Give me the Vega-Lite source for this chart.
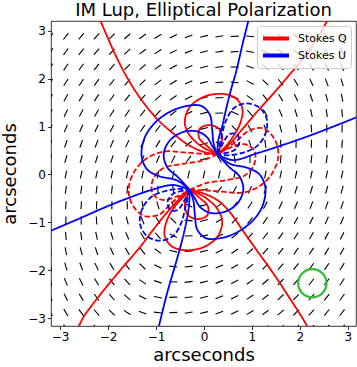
{
"$schema":"https://vega.github.io/schema/vega-lite/v6.json",
"width":305,"height":305,"autosize":"none",
"padding":{"left":51,"top":21,"right":1,"bottom":41},
"background":"white",
"title":{"text":"IM Lup, Elliptical Polarization","fontSize":18,"fontWeight":"normal","font":"DejaVu Sans","color":"black","offset":1,"anchor":"middle"},
"config":{"font":"DejaVu Sans","view":{"stroke":"black","strokeWidth":0.8},
 "axis":{"grid":false,"domain":false,"tickColor":"black","tickSize":3.5,"tickWidth":0.8,"labelFontSize":12,"labelColor":"black","titleFontSize":18,"titleFontWeight":"normal","titleColor":"black","labelFont":"DejaVu Sans","titleFont":"DejaVu Sans"},
 "legend":{"orient":"top-right","offset":5,"padding":4,"fillColor":"rgba(255,255,255,0.8)","strokeColor":"#cccccc","cornerRadius":3,"labelFontSize":11,"labelFont":"DejaVu Sans","labelColor":"black","symbolType":"M-1,0L3,0","symbolStrokeWidth":4,"symbolSize":169,"rowPadding":0,"labelOffset":20}},
"datasets":{
"paths":[{"p":1,"s":"Stokes Q","d":"solid"},{"p":2,"s":"Stokes Q","d":"solid"},{"p":3,"s":"Stokes Q","d":"solid"},{"p":4,"s":"Stokes Q","d":"solid"},{"p":5,"s":"Stokes Q","d":"dashed"},{"p":6,"s":"Stokes Q","d":"dashed"},{"p":7,"s":"Stokes Q","d":"dashed"},{"p":8,"s":"Stokes Q","d":"dashed"},{"p":9,"s":"Stokes Q","d":"solid"},{"p":10,"s":"Stokes Q","d":"solid"},{"p":11,"s":"Stokes Q","d":"solid"},{"p":12,"s":"Stokes Q","d":"solid"},{"p":13,"s":"Stokes U","d":"solid"},{"p":14,"s":"Stokes U","d":"solid"},{"p":15,"s":"Stokes U","d":"solid"},{"p":16,"s":"Stokes U","d":"solid"},{"p":17,"s":"Stokes U","d":"dashed"},{"p":18,"s":"Stokes U","d":"dashed"},{"p":19,"s":"Stokes U","d":"dashed"},{"p":20,"s":"Stokes U","d":"dashed"},{"p":21,"s":"Stokes U","d":"solid"},{"p":22,"s":"Stokes U","d":"solid"},{"p":23,"s":"Stokes U","d":"solid"},{"p":24,"s":"Stokes U","d":"solid"}],
"cont":[
{"p":1,"x":0.28,"y":0.42},{"p":1,"x":0.10,"y":0.50},{"p":1,"x":-0.10,"y":0.62},{"p":1,"x":-0.30,"y":0.82},{"p":1,"x":-0.40,"y":1.08},{"p":1,"x":-0.30,"y":1.40},{"p":1,"x":0.00,"y":1.62},{"p":1,"x":0.37,"y":1.68},{"p":1,"x":0.65,"y":1.60},{"p":1,"x":0.80,"y":1.38},{"p":1,"x":0.76,"y":1.08},{"p":1,"x":0.60,"y":0.78},{"p":1,"x":0.42,"y":0.55},{"p":1,"x":0.28,"y":0.42},
{"p":2,"x":-0.30,"y":-0.32},{"p":2,"x":-0.12,"y":-0.40},{"p":2,"x":0.08,"y":-0.52},{"p":2,"x":0.28,"y":-0.72},{"p":2,"x":0.38,"y":-0.98},{"p":2,"x":0.28,"y":-1.30},{"p":2,"x":-0.02,"y":-1.52},{"p":2,"x":-0.39,"y":-1.58},{"p":2,"x":-0.67,"y":-1.50},{"p":2,"x":-0.82,"y":-1.28},{"p":2,"x":-0.78,"y":-0.98},{"p":2,"x":-0.62,"y":-0.68},{"p":2,"x":-0.40,"y":-0.44},{"p":2,"x":-0.30,"y":-0.32},
{"p":3,"x":0.28,"y":0.42},{"p":3,"x":0.08,"y":0.58},{"p":3,"x":-0.10,"y":0.76},{"p":3,"x":-0.09,"y":0.95},{"p":3,"x":0.10,"y":1.03},{"p":3,"x":0.30,"y":0.96},{"p":3,"x":0.38,"y":0.76},{"p":3,"x":0.33,"y":0.55},{"p":3,"x":0.28,"y":0.42},
{"p":4,"x":-0.30,"y":-0.32},{"p":4,"x":-0.10,"y":-0.48},{"p":4,"x":0.08,"y":-0.66},{"p":4,"x":0.07,"y":-0.85},{"p":4,"x":-0.12,"y":-0.93},{"p":4,"x":-0.32,"y":-0.86},{"p":4,"x":-0.40,"y":-0.66},{"p":4,"x":-0.35,"y":-0.45},{"p":4,"x":-0.30,"y":-0.32},
{"p":5,"x":-0.30,"y":-0.32},{"p":5,"x":0.00,"y":-0.33},{"p":5,"x":0.40,"y":-0.36},{"p":5,"x":0.80,"y":-0.38},{"p":5,"x":1.15,"y":-0.25},{"p":5,"x":1.42,"y":0.02},{"p":5,"x":1.55,"y":0.38},{"p":5,"x":1.48,"y":0.72},{"p":5,"x":1.24,"y":0.96},{"p":5,"x":0.95,"y":0.92},{"p":5,"x":0.68,"y":0.70},{"p":5,"x":0.45,"y":0.52},{"p":5,"x":0.28,"y":0.42},
{"p":6,"x":0.28,"y":0.42},{"p":6,"x":-0.02,"y":0.43},{"p":6,"x":-0.42,"y":0.46},{"p":6,"x":-0.82,"y":0.48},{"p":6,"x":-1.17,"y":0.35},{"p":6,"x":-1.44,"y":0.08},{"p":6,"x":-1.57,"y":-0.28},{"p":6,"x":-1.50,"y":-0.62},{"p":6,"x":-1.26,"y":-0.86},{"p":6,"x":-0.94,"y":-0.84},{"p":6,"x":-0.66,"y":-0.58},{"p":6,"x":-0.45,"y":-0.42},{"p":6,"x":-0.30,"y":-0.32},
{"p":7,"x":-0.30,"y":-0.32},{"p":7,"x":0.05,"y":-0.18},{"p":7,"x":0.45,"y":-0.12},{"p":7,"x":0.85,"y":-0.02},{"p":7,"x":1.05,"y":0.22},{"p":7,"x":1.05,"y":0.50},{"p":7,"x":0.85,"y":0.63},{"p":7,"x":0.55,"y":0.56},{"p":7,"x":0.28,"y":0.42},
{"p":8,"x":0.28,"y":0.42},{"p":8,"x":-0.07,"y":0.28},{"p":8,"x":-0.47,"y":0.22},{"p":8,"x":-0.87,"y":0.12},{"p":8,"x":-1.07,"y":-0.12},{"p":8,"x":-1.07,"y":-0.40},{"p":8,"x":-0.87,"y":-0.53},{"p":8,"x":-0.57,"y":-0.46},{"p":8,"x":-0.30,"y":-0.32},
{"p":9,"x":0.28,"y":0.42},{"p":9,"x":0.00,"y":0.47},{"p":9,"x":-0.30,"y":0.60},{"p":9,"x":-0.60,"y":0.82},{"p":9,"x":-1.00,"y":1.18},{"p":9,"x":-1.35,"y":1.62},{"p":9,"x":-1.62,"y":2.05},{"p":9,"x":-1.85,"y":2.50},{"p":9,"x":-2.05,"y":2.95},{"p":9,"x":-2.20,"y":3.30},
{"p":10,"x":-0.30,"y":-0.32},{"p":10,"x":0.00,"y":-0.40},{"p":10,"x":0.30,"y":-0.55},{"p":10,"x":0.55,"y":-0.80},{"p":10,"x":0.83,"y":-1.20},{"p":10,"x":1.10,"y":-1.58},{"p":10,"x":1.45,"y":-2.07},{"p":10,"x":1.78,"y":-2.57},{"p":10,"x":2.08,"y":-3.04},{"p":10,"x":2.20,"y":-3.25},
{"p":11,"x":0.28,"y":0.42},{"p":11,"x":0.55,"y":0.65},{"p":11,"x":0.78,"y":0.92},{"p":11,"x":1.10,"y":1.30},{"p":11,"x":1.45,"y":1.69},{"p":11,"x":1.80,"y":2.10},{"p":11,"x":2.15,"y":2.52},{"p":11,"x":2.40,"y":2.90},{"p":11,"x":2.62,"y":3.30},
{"p":12,"x":-0.30,"y":-0.32},{"p":12,"x":-0.55,"y":-0.55},{"p":12,"x":-0.82,"y":-0.85},{"p":12,"x":-1.08,"y":-1.18},{"p":12,"x":-1.33,"y":-1.51},{"p":12,"x":-1.68,"y":-1.92},{"p":12,"x":-2.03,"y":-2.34},{"p":12,"x":-2.30,"y":-2.68},{"p":12,"x":-2.51,"y":-2.97},{"p":12,"x":-2.65,"y":-3.25},
{"p":13,"x":-0.30,"y":-0.32},{"p":13,"x":-0.57,"y":-0.12},{"p":13,"x":-0.92,"y":-0.04},{"p":13,"x":-1.18,"y":0.10},{"p":13,"x":-1.30,"y":0.38},{"p":13,"x":-1.24,"y":0.76},{"p":13,"x":-1.04,"y":1.06},{"p":13,"x":-0.74,"y":1.29},{"p":13,"x":-0.40,"y":1.42},{"p":13,"x":-0.06,"y":1.43},{"p":13,"x":0.12,"y":1.25},{"p":13,"x":0.17,"y":0.95},{"p":13,"x":0.20,"y":0.65},{"p":13,"x":0.28,"y":0.42},
{"p":14,"x":0.28,"y":0.42},{"p":14,"x":0.55,"y":0.22},{"p":14,"x":0.90,"y":0.14},{"p":14,"x":1.16,"y":0.00},{"p":14,"x":1.28,"y":-0.28},{"p":14,"x":1.22,"y":-0.66},{"p":14,"x":1.02,"y":-0.96},{"p":14,"x":0.72,"y":-1.19},{"p":14,"x":0.38,"y":-1.32},{"p":14,"x":0.04,"y":-1.33},{"p":14,"x":-0.14,"y":-1.15},{"p":14,"x":-0.19,"y":-0.85},{"p":14,"x":-0.22,"y":-0.55},{"p":14,"x":-0.30,"y":-0.32},
{"p":15,"x":-0.30,"y":-0.32},{"p":15,"x":-0.55,"y":-0.05},{"p":15,"x":-0.76,"y":0.14},{"p":15,"x":-0.84,"y":0.42},{"p":15,"x":-0.72,"y":0.70},{"p":15,"x":-0.45,"y":0.88},{"p":15,"x":-0.15,"y":0.90},{"p":15,"x":0.06,"y":0.78},{"p":15,"x":0.18,"y":0.58},{"p":15,"x":0.28,"y":0.42},
{"p":16,"x":0.28,"y":0.42},{"p":16,"x":0.53,"y":0.15},{"p":16,"x":0.74,"y":-0.04},{"p":16,"x":0.82,"y":-0.32},{"p":16,"x":0.70,"y":-0.60},{"p":16,"x":0.43,"y":-0.78},{"p":16,"x":0.13,"y":-0.80},{"p":16,"x":-0.08,"y":-0.68},{"p":16,"x":-0.20,"y":-0.48},{"p":16,"x":-0.30,"y":-0.32},
{"p":17,"x":0.28,"y":0.42},{"p":17,"x":0.36,"y":0.75},{"p":17,"x":0.45,"y":1.10},{"p":17,"x":0.62,"y":1.38},{"p":17,"x":0.88,"y":1.48},{"p":17,"x":1.15,"y":1.40},{"p":17,"x":1.31,"y":1.15},{"p":17,"x":1.27,"y":0.82},{"p":17,"x":1.08,"y":0.57},{"p":17,"x":0.80,"y":0.45},{"p":17,"x":0.50,"y":0.40},{"p":17,"x":0.28,"y":0.42},
{"p":18,"x":-0.30,"y":-0.32},{"p":18,"x":-0.38,"y":-0.65},{"p":18,"x":-0.47,"y":-1.00},{"p":18,"x":-0.64,"y":-1.28},{"p":18,"x":-0.90,"y":-1.38},{"p":18,"x":-1.17,"y":-1.30},{"p":18,"x":-1.33,"y":-1.05},{"p":18,"x":-1.29,"y":-0.72},{"p":18,"x":-1.10,"y":-0.47},{"p":18,"x":-0.82,"y":-0.35},{"p":18,"x":-0.52,"y":-0.30},{"p":18,"x":-0.30,"y":-0.32},
{"p":19,"x":0.28,"y":0.42},{"p":19,"x":0.40,"y":0.66},{"p":19,"x":0.53,"y":0.84},{"p":19,"x":0.68,"y":0.84},{"p":19,"x":0.74,"y":0.67},{"p":19,"x":0.62,"y":0.50},{"p":19,"x":0.28,"y":0.42},
{"p":20,"x":-0.30,"y":-0.32},{"p":20,"x":-0.42,"y":-0.56},{"p":20,"x":-0.55,"y":-0.74},{"p":20,"x":-0.70,"y":-0.74},{"p":20,"x":-0.76,"y":-0.57},{"p":20,"x":-0.64,"y":-0.40},{"p":20,"x":-0.30,"y":-0.32},
{"p":21,"x":0.28,"y":0.42},{"p":21,"x":0.30,"y":0.72},{"p":21,"x":0.38,"y":1.00},{"p":21,"x":0.44,"y":1.27},{"p":21,"x":0.55,"y":1.72},{"p":21,"x":0.68,"y":2.18},{"p":21,"x":0.80,"y":2.70},{"p":21,"x":0.95,"y":3.30},
{"p":22,"x":-0.30,"y":-0.32},{"p":22,"x":-0.31,"y":-0.62},{"p":22,"x":-0.36,"y":-0.95},{"p":22,"x":-0.45,"y":-1.35},{"p":22,"x":-0.57,"y":-1.79},{"p":22,"x":-0.77,"y":-2.48},{"p":22,"x":-0.91,"y":-3.04},{"p":22,"x":-0.96,"y":-3.25},
{"p":23,"x":0.28,"y":0.42},{"p":23,"x":0.60,"y":0.30},{"p":23,"x":1.10,"y":0.44},{"p":23,"x":1.60,"y":0.60},{"p":23,"x":2.15,"y":0.79},{"p":23,"x":2.70,"y":1.00},{"p":23,"x":3.25,"y":1.22},
{"p":24,"x":-0.30,"y":-0.32},{"p":24,"x":-0.64,"y":-0.22},{"p":24,"x":-1.12,"y":-0.33},{"p":24,"x":-1.60,"y":-0.50},{"p":24,"x":-2.03,"y":-0.67},{"p":24,"x":-2.60,"y":-0.92},{"p":24,"x":-3.30,"y":-1.22}
],
"vec":[
{"x":-3.2,"y":2.88,"a":53},{"x":-2.88,"y":2.88,"a":52},{"x":-2.56,"y":2.88,"a":50},{"x":-2.24,"y":2.88,"a":47},{"x":-1.92,"y":2.88,"a":45},{"x":-1.6,"y":2.88,"a":41},{"x":-1.28,"y":2.88,"a":36},{"x":-0.96,"y":2.88,"a":31},{"x":-0.64,"y":2.88,"a":26},{"x":-0.32,"y":2.88,"a":20},{"x":0,"y":2.88,"a":14},{"x":0.32,"y":2.88,"a":9},{"x":0.64,"y":2.88,"a":3},{"x":0.96,"y":2.88,"a":174},{"x":1.28,"y":2.88,"a":160},{"x":1.6,"y":2.88,"a":147},{"x":1.92,"y":2.88,"a":136},{"x":2.24,"y":2.88,"a":130},{"x":2.56,"y":2.88,"a":126},{"x":2.88,"y":2.88,"a":121},
{"x":-3.2,"y":2.56,"a":55},{"x":-2.88,"y":2.56,"a":54},{"x":-2.56,"y":2.56,"a":52},{"x":-2.24,"y":2.56,"a":49},{"x":-1.92,"y":2.56,"a":47},{"x":-1.6,"y":2.56,"a":43},{"x":-1.28,"y":2.56,"a":38},{"x":-0.96,"y":2.56,"a":33},{"x":-0.64,"y":2.56,"a":27},{"x":-0.32,"y":2.56,"a":21},{"x":0,"y":2.56,"a":14},{"x":0.32,"y":2.56,"a":8},{"x":0.64,"y":2.56,"a":2},{"x":0.96,"y":2.56,"a":169},{"x":1.28,"y":2.56,"a":154},{"x":1.6,"y":2.56,"a":140},{"x":1.92,"y":2.56,"a":131},{"x":2.24,"y":2.56,"a":126},{"x":2.56,"y":2.56,"a":121},{"x":2.88,"y":2.56,"a":117},
{"x":-3.2,"y":2.24,"a":57},{"x":-2.88,"y":2.24,"a":56},{"x":-2.56,"y":2.24,"a":54},{"x":-2.24,"y":2.24,"a":52},{"x":-1.92,"y":2.24,"a":49},{"x":-1.6,"y":2.24,"a":46},{"x":-1.28,"y":2.24,"a":41},{"x":-0.96,"y":2.24,"a":35},{"x":-0.64,"y":2.24,"a":29},{"x":-0.32,"y":2.24,"a":22},{"x":0,"y":2.24,"a":14},{"x":0.32,"y":2.24,"a":7},{"x":0.64,"y":2.24,"a":0},{"x":0.96,"y":2.24,"a":162},{"x":1.28,"y":2.24,"a":146},{"x":1.6,"y":2.24,"a":133},{"x":1.92,"y":2.24,"a":127},{"x":2.24,"y":2.24,"a":121},{"x":2.56,"y":2.24,"a":117},{"x":2.88,"y":2.24,"a":112},
{"x":-3.2,"y":1.92,"a":60},{"x":-2.88,"y":1.92,"a":58},{"x":-2.56,"y":1.92,"a":56},{"x":-2.24,"y":1.92,"a":54},{"x":-1.92,"y":1.92,"a":52},{"x":-1.6,"y":1.92,"a":48},{"x":-1.28,"y":1.92,"a":45},{"x":-0.96,"y":1.92,"a":38},{"x":-0.64,"y":1.92,"a":31},{"x":-0.32,"y":1.92,"a":23},{"x":0,"y":1.92,"a":14},{"x":0.32,"y":1.92,"a":6},{"x":0.64,"y":1.92,"a":174},{"x":0.96,"y":1.92,"a":154},{"x":1.28,"y":1.92,"a":136},{"x":1.6,"y":1.92,"a":128},{"x":1.92,"y":1.92,"a":121},{"x":2.24,"y":1.92,"a":116},{"x":2.56,"y":1.92,"a":111},{"x":2.88,"y":1.92,"a":107},
{"x":-3.2,"y":1.6,"a":62},{"x":-2.88,"y":1.6,"a":61},{"x":-2.56,"y":1.6,"a":59},{"x":-2.24,"y":1.6,"a":57},{"x":-1.92,"y":1.6,"a":55},{"x":-1.6,"y":1.6,"a":52},{"x":-1.28,"y":1.6,"a":48},{"x":-0.96,"y":1.6,"a":42},{"x":-0.64,"y":1.6,"a":34},{"x":-0.32,"y":1.6,"a":25},{"x":0,"y":1.6,"a":14},{"x":0.32,"y":1.6,"a":4},{"x":0.64,"y":1.6,"a":166},{"x":0.96,"y":1.6,"a":143},{"x":1.28,"y":1.6,"a":129},{"x":1.6,"y":1.6,"a":121},{"x":1.92,"y":1.6,"a":115},{"x":2.24,"y":1.6,"a":109},{"x":2.56,"y":1.6,"a":105},{"x":2.88,"y":1.6,"a":101},
{"x":-3.2,"y":1.28,"a":65},{"x":-2.88,"y":1.28,"a":64},{"x":-2.56,"y":1.28,"a":62},{"x":-2.24,"y":1.28,"a":61},{"x":-1.92,"y":1.28,"a":58},{"x":-1.6,"y":1.28,"a":55},{"x":-1.28,"y":1.28,"a":52},{"x":-0.96,"y":1.28,"a":47},{"x":-0.64,"y":1.28,"a":38},{"x":-0.32,"y":1.28,"a":27},{"x":0,"y":1.28,"a":14},{"x":0.32,"y":1.28,"a":2},{"x":0.64,"y":1.28,"a":154},{"x":0.96,"y":1.28,"a":131},{"x":1.28,"y":1.28,"a":121},{"x":1.6,"y":1.28,"a":113},{"x":1.92,"y":1.28,"a":107},{"x":2.24,"y":1.28,"a":102},{"x":2.56,"y":1.28,"a":98},{"x":2.88,"y":1.28,"a":95},
{"x":-3.2,"y":0.96,"a":68},{"x":-2.88,"y":0.96,"a":67},{"x":-2.56,"y":0.96,"a":66},{"x":-2.24,"y":0.96,"a":64},{"x":-1.92,"y":0.96,"a":62},{"x":-1.6,"y":0.96,"a":60},{"x":-1.28,"y":0.96,"a":56},{"x":-0.96,"y":0.96,"a":52},{"x":-0.64,"y":0.96,"a":45},{"x":-0.32,"y":0.96,"a":31},{"x":0,"y":0.96,"a":14},{"x":0.32,"y":0.96,"a":174},{"x":0.64,"y":0.96,"a":136},{"x":0.96,"y":0.96,"a":121},{"x":1.28,"y":0.96,"a":111},{"x":1.6,"y":0.96,"a":104},{"x":1.92,"y":0.96,"a":98},{"x":2.24,"y":0.96,"a":94},{"x":2.56,"y":0.96,"a":91},{"x":2.88,"y":0.96,"a":89},
{"x":-3.2,"y":0.64,"a":72},{"x":-2.88,"y":0.64,"a":71},{"x":-2.56,"y":0.64,"a":70},{"x":-2.24,"y":0.64,"a":69},{"x":-1.92,"y":0.64,"a":67},{"x":-1.6,"y":0.64,"a":65},{"x":-1.28,"y":0.64,"a":62},{"x":-0.96,"y":0.64,"a":58},{"x":-0.64,"y":0.64,"a":52},{"x":-0.32,"y":0.64,"a":38},{"x":0,"y":0.64,"a":14},{"x":0.32,"y":0.64,"a":154},{"x":0.64,"y":0.64,"a":121},{"x":0.96,"y":0.64,"a":107},{"x":1.28,"y":0.64,"a":98},{"x":1.6,"y":0.64,"a":92},{"x":1.92,"y":0.64,"a":89},{"x":2.24,"y":0.64,"a":88},{"x":2.56,"y":0.64,"a":87},{"x":2.88,"y":0.64,"a":86},
{"x":-3.2,"y":0.32,"a":75},{"x":-2.88,"y":0.32,"a":74},{"x":-2.56,"y":0.32,"a":74},{"x":-2.24,"y":0.32,"a":73},{"x":-1.92,"y":0.32,"a":73},{"x":-1.6,"y":0.32,"a":72},{"x":-1.28,"y":0.32,"a":70},{"x":-0.96,"y":0.32,"a":67},{"x":-0.64,"y":0.32,"a":62},{"x":-0.32,"y":0.32,"a":52},{"x":0,"y":0.32,"a":14},{"x":0.32,"y":0.32,"a":121},{"x":0.64,"y":0.32,"a":98},{"x":0.96,"y":0.32,"a":89},{"x":1.28,"y":0.32,"a":87},{"x":1.6,"y":0.32,"a":85},{"x":1.92,"y":0.32,"a":84},{"x":2.24,"y":0.32,"a":83},{"x":2.56,"y":0.32,"a":82},{"x":2.88,"y":0.32,"a":82},
{"x":-3.2,"y":0,"a":78},{"x":-2.88,"y":0,"a":78},{"x":-2.56,"y":0,"a":78},{"x":-2.24,"y":0,"a":78},{"x":-1.92,"y":0,"a":78},{"x":-1.6,"y":0,"a":78},{"x":-1.28,"y":0,"a":78},{"x":-0.96,"y":0,"a":78},{"x":-0.64,"y":0,"a":78},{"x":-0.32,"y":0,"a":78},{"x":0,"y":0,"a":78},{"x":0.32,"y":0,"a":78},{"x":0.64,"y":0,"a":78},{"x":0.96,"y":0,"a":78},{"x":1.28,"y":0,"a":78},{"x":1.6,"y":0,"a":78},{"x":1.92,"y":0,"a":78},{"x":2.24,"y":0,"a":78},{"x":2.56,"y":0,"a":78},{"x":2.88,"y":0,"a":78},
{"x":-3.2,"y":-0.32,"a":82},{"x":-2.88,"y":-0.32,"a":82},{"x":-2.56,"y":-0.32,"a":82},{"x":-2.24,"y":-0.32,"a":83},{"x":-1.92,"y":-0.32,"a":84},{"x":-1.6,"y":-0.32,"a":85},{"x":-1.28,"y":-0.32,"a":87},{"x":-0.96,"y":-0.32,"a":89},{"x":-0.64,"y":-0.32,"a":98},{"x":-0.32,"y":-0.32,"a":121},{"x":0,"y":-0.32,"a":14},{"x":0.32,"y":-0.32,"a":52},{"x":0.64,"y":-0.32,"a":62},{"x":0.96,"y":-0.32,"a":67},{"x":1.28,"y":-0.32,"a":70},{"x":1.6,"y":-0.32,"a":72},{"x":1.92,"y":-0.32,"a":73},{"x":2.24,"y":-0.32,"a":73},{"x":2.56,"y":-0.32,"a":74},{"x":2.88,"y":-0.32,"a":74},
{"x":-3.2,"y":-0.64,"a":85},{"x":-2.88,"y":-0.64,"a":86},{"x":-2.56,"y":-0.64,"a":87},{"x":-2.24,"y":-0.64,"a":88},{"x":-1.92,"y":-0.64,"a":89},{"x":-1.6,"y":-0.64,"a":92},{"x":-1.28,"y":-0.64,"a":98},{"x":-0.96,"y":-0.64,"a":107},{"x":-0.64,"y":-0.64,"a":121},{"x":-0.32,"y":-0.64,"a":154},{"x":0,"y":-0.64,"a":14},{"x":0.32,"y":-0.64,"a":38},{"x":0.64,"y":-0.64,"a":52},{"x":0.96,"y":-0.64,"a":58},{"x":1.28,"y":-0.64,"a":62},{"x":1.6,"y":-0.64,"a":65},{"x":1.92,"y":-0.64,"a":67},{"x":2.24,"y":-0.64,"a":69},{"x":2.56,"y":-0.64,"a":70},{"x":2.88,"y":-0.64,"a":71},
{"x":-3.2,"y":-0.96,"a":88},{"x":-2.88,"y":-0.96,"a":89},{"x":-2.56,"y":-0.96,"a":91},{"x":-2.24,"y":-0.96,"a":94},{"x":-1.92,"y":-0.96,"a":98},{"x":-1.6,"y":-0.96,"a":104},{"x":-1.28,"y":-0.96,"a":111},{"x":-0.96,"y":-0.96,"a":121},{"x":-0.64,"y":-0.96,"a":136},{"x":-0.32,"y":-0.96,"a":174},{"x":0,"y":-0.96,"a":14},{"x":0.32,"y":-0.96,"a":31},{"x":0.64,"y":-0.96,"a":45},{"x":0.96,"y":-0.96,"a":52},{"x":1.28,"y":-0.96,"a":56},{"x":1.6,"y":-0.96,"a":60},{"x":1.92,"y":-0.96,"a":62},{"x":2.24,"y":-0.96,"a":64},{"x":2.56,"y":-0.96,"a":66},{"x":2.88,"y":-0.96,"a":67},
{"x":-3.2,"y":-1.28,"a":92},{"x":-2.88,"y":-1.28,"a":95},{"x":-2.56,"y":-1.28,"a":98},{"x":-2.24,"y":-1.28,"a":102},{"x":-1.92,"y":-1.28,"a":107},{"x":-1.6,"y":-1.28,"a":113},{"x":-1.28,"y":-1.28,"a":121},{"x":-0.96,"y":-1.28,"a":131},{"x":-0.64,"y":-1.28,"a":154},{"x":-0.32,"y":-1.28,"a":2},{"x":0,"y":-1.28,"a":14},{"x":0.32,"y":-1.28,"a":27},{"x":0.64,"y":-1.28,"a":38},{"x":0.96,"y":-1.28,"a":47},{"x":1.28,"y":-1.28,"a":52},{"x":1.6,"y":-1.28,"a":55},{"x":1.92,"y":-1.28,"a":58},{"x":2.24,"y":-1.28,"a":61},{"x":2.56,"y":-1.28,"a":62},{"x":2.88,"y":-1.28,"a":64},
{"x":-3.2,"y":-1.6,"a":98},{"x":-2.88,"y":-1.6,"a":101},{"x":-2.56,"y":-1.6,"a":105},{"x":-2.24,"y":-1.6,"a":109},{"x":-1.92,"y":-1.6,"a":115},{"x":-1.6,"y":-1.6,"a":121},{"x":-1.28,"y":-1.6,"a":129},{"x":-0.96,"y":-1.6,"a":143},{"x":-0.64,"y":-1.6,"a":166},{"x":-0.32,"y":-1.6,"a":4},{"x":0,"y":-1.6,"a":14},{"x":0.32,"y":-1.6,"a":25},{"x":0.64,"y":-1.6,"a":34},{"x":0.96,"y":-1.6,"a":42},{"x":1.28,"y":-1.6,"a":48},{"x":1.6,"y":-1.6,"a":52},{"x":1.92,"y":-1.6,"a":55},{"x":2.24,"y":-1.6,"a":57},{"x":2.56,"y":-1.6,"a":59},{"x":2.88,"y":-1.6,"a":61},
{"x":-3.2,"y":-1.92,"a":104},{"x":-2.88,"y":-1.92,"a":107},{"x":-2.56,"y":-1.92,"a":111},{"x":-2.24,"y":-1.92,"a":116},{"x":-1.92,"y":-1.92,"a":121},{"x":-1.6,"y":-1.92,"a":128},{"x":-1.28,"y":-1.92,"a":136},{"x":-0.96,"y":-1.92,"a":154},{"x":-0.64,"y":-1.92,"a":174},{"x":-0.32,"y":-1.92,"a":6},{"x":0,"y":-1.92,"a":14},{"x":0.32,"y":-1.92,"a":23},{"x":0.64,"y":-1.92,"a":31},{"x":0.96,"y":-1.92,"a":38},{"x":1.28,"y":-1.92,"a":45},{"x":1.6,"y":-1.92,"a":48},{"x":1.92,"y":-1.92,"a":52},{"x":2.24,"y":-1.92,"a":54},{"x":2.56,"y":-1.92,"a":56},{"x":2.88,"y":-1.92,"a":58},
{"x":-3.2,"y":-2.24,"a":109},{"x":-2.88,"y":-2.24,"a":112},{"x":-2.56,"y":-2.24,"a":117},{"x":-2.24,"y":-2.24,"a":121},{"x":-1.92,"y":-2.24,"a":127},{"x":-1.6,"y":-2.24,"a":133},{"x":-1.28,"y":-2.24,"a":146},{"x":-0.96,"y":-2.24,"a":162},{"x":-0.64,"y":-2.24,"a":0},{"x":-0.32,"y":-2.24,"a":7},{"x":0,"y":-2.24,"a":14},{"x":0.32,"y":-2.24,"a":22},{"x":0.64,"y":-2.24,"a":29},{"x":0.96,"y":-2.24,"a":35},{"x":1.28,"y":-2.24,"a":41},{"x":1.6,"y":-2.24,"a":46},{"x":1.92,"y":-2.24,"a":49},{"x":2.24,"y":-2.24,"a":52},{"x":2.56,"y":-2.24,"a":54},{"x":2.88,"y":-2.24,"a":56},
{"x":-3.2,"y":-2.56,"a":113},{"x":-2.88,"y":-2.56,"a":117},{"x":-2.56,"y":-2.56,"a":121},{"x":-2.24,"y":-2.56,"a":126},{"x":-1.92,"y":-2.56,"a":131},{"x":-1.6,"y":-2.56,"a":140},{"x":-1.28,"y":-2.56,"a":154},{"x":-0.96,"y":-2.56,"a":169},{"x":-0.64,"y":-2.56,"a":2},{"x":-0.32,"y":-2.56,"a":8},{"x":0,"y":-2.56,"a":14},{"x":0.32,"y":-2.56,"a":21},{"x":0.64,"y":-2.56,"a":27},{"x":0.96,"y":-2.56,"a":33},{"x":1.28,"y":-2.56,"a":38},{"x":1.6,"y":-2.56,"a":43},{"x":1.92,"y":-2.56,"a":47},{"x":2.24,"y":-2.56,"a":49},{"x":2.56,"y":-2.56,"a":52},{"x":2.88,"y":-2.56,"a":54},
{"x":-3.2,"y":-2.88,"a":118},{"x":-2.88,"y":-2.88,"a":121},{"x":-2.56,"y":-2.88,"a":126},{"x":-2.24,"y":-2.88,"a":130},{"x":-1.92,"y":-2.88,"a":136},{"x":-1.6,"y":-2.88,"a":147},{"x":-1.28,"y":-2.88,"a":160},{"x":-0.96,"y":-2.88,"a":174},{"x":-0.64,"y":-2.88,"a":3},{"x":-0.32,"y":-2.88,"a":9},{"x":0,"y":-2.88,"a":14},{"x":0.32,"y":-2.88,"a":20},{"x":0.64,"y":-2.88,"a":26},{"x":0.96,"y":-2.88,"a":31},{"x":1.28,"y":-2.88,"a":36},{"x":1.6,"y":-2.88,"a":41},{"x":1.92,"y":-2.88,"a":45},{"x":2.24,"y":-2.88,"a":47},{"x":2.56,"y":-2.88,"a":50},{"x":2.88,"y":-2.88,"a":52},
{"x":-3.2,"y":-3.2,"a":121},{"x":-2.88,"y":-3.2,"a":125},{"x":-2.56,"y":-3.2,"a":129},{"x":-2.24,"y":-3.2,"a":134},{"x":-1.92,"y":-3.2,"a":143},{"x":-1.6,"y":-3.2,"a":154},{"x":-1.28,"y":-3.2,"a":166},{"x":-0.96,"y":-3.2,"a":178},{"x":-0.64,"y":-3.2,"a":4},{"x":-0.32,"y":-3.2,"a":9},{"x":0,"y":-3.2,"a":14},{"x":0.32,"y":-3.2,"a":20},{"x":0.64,"y":-3.2,"a":25},{"x":0.96,"y":-3.2,"a":29},{"x":1.28,"y":-3.2,"a":34},{"x":1.6,"y":-3.2,"a":38},{"x":1.92,"y":-3.2,"a":42},{"x":2.24,"y":-3.2,"a":46},{"x":2.56,"y":-3.2,"a":48},{"x":2.88,"y":-3.2,"a":50}
],
"beam":[{"x":2.26,"y":-2.27}]
},
"encoding":{
 "x":{"field":"x","type":"quantitative","scale":{"domain":[-3.19,3.17],"nice":false,"zero":false},"axis":{"title":"arcseconds","values":[-3,-2,-1,0,1,2,3],"labelPadding":2,"titlePadding":4}},
 "y":{"field":"y","type":"quantitative","scale":{"domain":[-3.16,3.2],"nice":false,"zero":false},"axis":{"title":"arcseconds","values":[-3,-2,-1,0,1,2,3],"labelPadding":2,"titlePadding":8}}
},
"layer":[
 {"data":{"name":"vec"},
  "mark":{"type":"point","shape":"M-1,0L1,0","filled":false,"stroke":"black","strokeWidth":1.1,"size":64,"opacity":1,"clip":true},
  "encoding":{"angle":{"field":"a","type":"quantitative","scale":{"domain":[0,180],"range":[180,0]}}}},
 {"data":{"name":"cont"},
  "transform":[{"lookup":"p","from":{"data":{"name":"paths"},"key":"p","fields":["s","d"]}}],
  "mark":{"type":"line","strokeWidth":1.8,"interpolate":"catmull-rom","clip":true},
  "encoding":{
   "detail":{"field":"p","type":"nominal"},
   "order":{"value":null},
   "color":{"field":"s","type":"nominal","scale":{"domain":["Stokes Q","Stokes U"],"range":["#ff0000","#0000ff"]},"legend":{"title":null}},
   "strokeDash":{"field":"d","type":"nominal","scale":{"domain":["solid","dashed"],"range":[[1,0],[5.5,2.4]]},"legend":null}}},
 {"data":{"name":"beam"},
  "mark":{"type":"point","shape":"circle","size":800,"filled":false,"stroke":"#33bb33","strokeWidth":2.2,"opacity":1}}
]
}
